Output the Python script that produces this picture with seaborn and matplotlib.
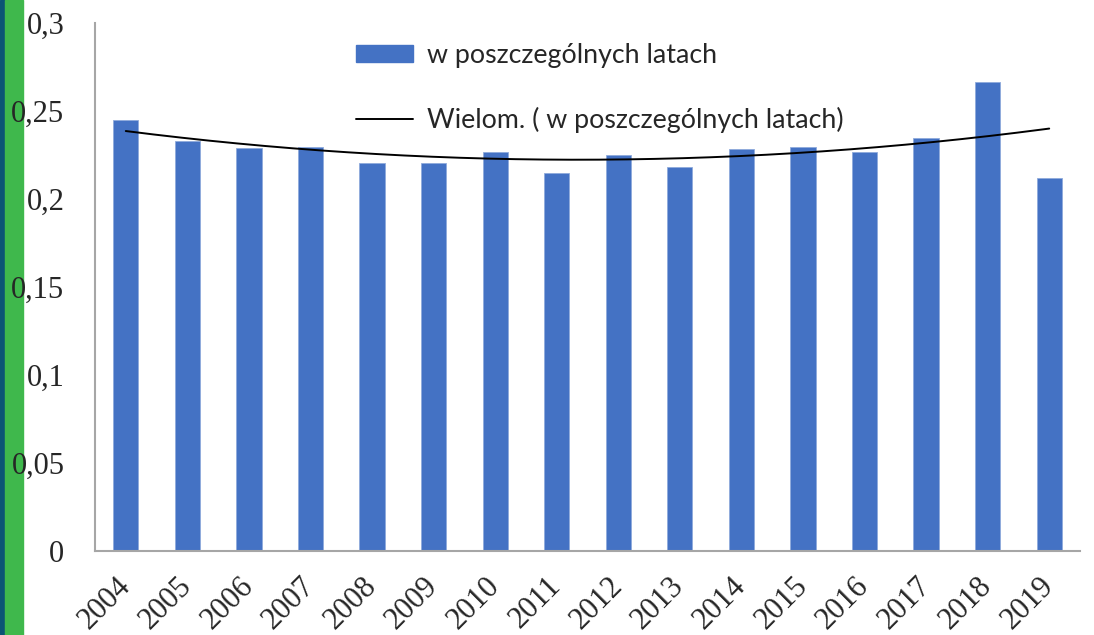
import numpy as np
import pandas as pd
import matplotlib
matplotlib.use('Agg')
import matplotlib.pyplot as plt
from matplotlib.patches import Rectangle, Patch
from matplotlib.lines import Line2D
import seaborn as sns

# data
years = ['2004', '2005', '2006', '2007', '2008', '2009', '2010', '2011',
         '2012', '2013', '2014', '2015', '2016', '2017', '2018', '2019']
values = [0.245, 0.233, 0.229, 0.2295, 0.2205, 0.2205, 0.2267, 0.2148,
          0.225, 0.2182, 0.2284, 0.2295, 0.2267, 0.2347, 0.2665, 0.2119]
yticks = [0, 0.05, 0.1, 0.15, 0.2, 0.25, 0.3]
ytick_labels = ['0', '0,05', '0,1', '0,15', '0,2', '0,25', '0,3']
bar_label = 'w poszczególnych latach'
trend_label = 'Wielom. ( w poszczególnych latach)'

df = pd.DataFrame({'rok': years, 'wartosc': values})

sns.set_style('white')
bar_color = '#4472C4'
grey = '#a6a6a6'

fig = plt.figure(figsize=(10.94, 6.35), dpi=100)
ax = fig.add_axes([95 / 1094, 1 - 551 / 635, 985 / 1094, 528 / 635])

# coloured stripes on the left edge (behind the tick labels)
fig.patches.append(Rectangle((0, 0), 5 / 1094, 1, transform=fig.transFigure,
                             color='#0b5574', zorder=-1))
fig.patches.append(Rectangle((5 / 1094, 0), 18 / 1094, 1, transform=fig.transFigure,
                             color='#3fb84c', zorder=-1))

sns.barplot(data=df, x='rok', y='wartosc', color=bar_color, width=0.41,
            saturation=1, edgecolor='#8faadc', linewidth=0.6, ax=ax)

# polynomial (2nd order) trendline, like Excel
x = np.arange(len(values))
coef = np.polyfit(x, values, 2)
xs = np.linspace(0, len(values) - 1, 200)
ax.plot(xs, np.polyval(coef, xs), color='black', lw=1.4)

ax.set_xlim(-0.5, len(values) - 0.5)
ax.set_ylim(0, 0.3)
ax.set_yticks(yticks)
ax.set_yticklabels(ytick_labels, fontfamily='Liberation Serif', fontsize=22)
ax.set_xticks(x)
ax.set_xticklabels(years, fontfamily='Liberation Serif', fontsize=22,
                   rotation=45, ha='right', va='center', rotation_mode='anchor')
ax.set_xticks(np.arange(-0.5, len(values)), minor=True)
ax.tick_params(axis='x', which='major', length=0, pad=22)
ax.tick_params(axis='x', which='minor', length=8, width=1.5, color=grey, direction='out')
ax.tick_params(axis='y', length=8, width=1.5, color=grey, direction='out', pad=14)
ax.set_xlabel('')
ax.set_ylabel('')
sns.despine(ax=ax)
for s in ['left', 'bottom']:
    ax.spines[s].set_color(grey)
    ax.spines[s].set_linewidth(1.5)

handles = [Patch(facecolor=bar_color, edgecolor=bar_color),
           Line2D([0], [0], color='black', lw=1.4)]
fig.legend(handles, [bar_label, trend_label], loc='upper left',
           bbox_to_anchor=(356 / 1094, 1 - 43 / 635), frameon=False,
           prop={'family': 'Lato', 'size': 19.3}, handlelength=2.13,
           handleheight=0.6, handletextpad=0.52, labelspacing=1.44,
           borderpad=0, borderaxespad=0)

fig.savefig('out.png', dpi=100)
